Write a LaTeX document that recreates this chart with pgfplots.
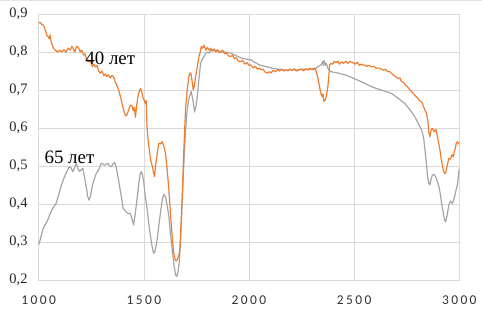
\documentclass[border=0pt]{standalone}
\usepackage{fontspec}
\setmainfont{Liberation Serif}
\newfontfamily\xfont[LetterSpace=18]{Carlito}
\usepackage{pgfplots}
\pgfplotsset{compat=1.18}
\definecolor{orng}{HTML}{ED7D31}
\definecolor{gry}{HTML}{A5A5A5}
\definecolor{gridc}{HTML}{D9D9D9}
\begin{document}
\begin{tikzpicture}
\useasboundingbox (-38.7bp,-35bp) rectangle (443.3bp,280bp);
\begin{axis}[
  at={(0,0)}, anchor=south west,
  scale only axis, width=420.6bp, height=266bp,
  xmin=1000, xmax=3000, ymin=0.2, ymax=0.9,
  xtick={1000,1500,2000,2500,3000},
  xticklabels={1000,1500,2000,2500,3000},
  ytick={0.2,0.3,0.4,0.5,0.6,0.7,0.8,0.9},
  yticklabels={{0,2},{0,3},{0,4},{0,5},{0,6},{0,7},{0,8},{0,9}},
  grid=major, grid style={gridc, line width=0.6pt},
  axis line style={gridc, line width=0.6pt},
  major tick length=0pt,
  yticklabel style={font=\fontsize{14.5}{16}\selectfont, text=black!85, anchor=east, inner sep=0pt, xshift=-11bp},
  xticklabel style={font=\xfont\fontsize{13.5}{15}\selectfont, text=black!80, anchor=north, inner sep=0pt, yshift=-16bp},
  clip=true,
]
\addplot[gry, line width=1.2pt, line join=round] coordinates {
(1000,0.292)(1010,0.312)(1019,0.332)(1030,0.345)(1043,0.358)(1055,0.375)(1067,0.389)(1075,0.395)(1083,0.402)
(1095,0.425)(1106,0.446)(1118,0.465)(1130,0.481)(1138,0.49)(1146,0.498)(1154,0.495)(1162,0.485)(1170,0.495)
(1178,0.507)(1186,0.495)(1194,0.485)(1202,0.49)(1210,0.494)(1218,0.47)(1226,0.446)(1233,0.42)(1239,0.41)
(1246,0.42)(1254,0.446)(1264,0.465)(1274,0.481)(1285,0.49)(1297,0.507)(1305,0.505)(1313,0.502)(1321,0.505)
(1329,0.507)(1337,0.50)(1345,0.498)(1353,0.505)(1361,0.51)(1369,0.495)(1377,0.472)(1385,0.445)(1393,0.419)
(1401,0.39)(1409,0.384)(1418,0.378)(1428,0.375)(1436,0.375)(1444,0.36)(1451,0.345)(1458,0.37)(1467,0.41)
(1475,0.45)(1481,0.475)(1487,0.485)(1493,0.478)(1500,0.455)(1507,0.419)(1515,0.39)(1525,0.34)(1532,0.314)
(1540,0.285)(1547,0.27)(1553,0.275)(1563,0.305)(1575,0.36)(1587,0.41)(1595,0.425)(1603,0.419)(1611,0.395)
(1619,0.367)(1627,0.32)(1635,0.279)(1643,0.24)(1651,0.213)(1656,0.209)(1662,0.22)(1668,0.245)(1674,0.297)
(1682,0.40)(1691,0.516)(1698,0.59)(1706,0.647)(1715,0.68)(1725,0.696)(1733,0.675)(1741,0.642)(1747,0.655)
(1754,0.682)(1762,0.73)(1770,0.77)(1778,0.782)(1786,0.788)(1794,0.797)(1802,0.80)(1810,0.797)(1818,0.806)
(1830,0.805)(1850,0.803)(1870,0.80)(1890,0.80)(1913,0.797)(1940,0.79)(1960,0.785)(1980,0.782)(2009,0.779)
(2030,0.772)(2050,0.766)(2070,0.763)(2088,0.761)(2110,0.757)(2140,0.755)(2160,0.753)(2191,0.753)(2230,0.753)
(2260,0.755)(2290,0.755)(2319,0.757)(2330,0.762)(2343,0.766)(2350,0.775)(2353,0.765)(2358,0.778)(2363,0.765)
(2368,0.77)(2375,0.757)(2390,0.748)(2420,0.745)(2462,0.739)(2500,0.73)(2534,0.722)(2570,0.712)(2605,0.704)
(2640,0.698)(2677,0.691)(2710,0.678)(2740,0.665)(2765,0.648)(2788,0.63)(2805,0.612)(2821,0.595)(2830,0.575)
(2837,0.542)(2843,0.51)(2849,0.472)(2855,0.455)(2860,0.45)(2866,0.465)(2872,0.476)(2880,0.478)(2887,0.472)
(2895,0.46)(2902,0.448)(2908,0.432)(2915,0.405)(2924,0.375)(2930,0.358)(2935,0.353)(2942,0.37)(2950,0.397)
(2958,0.408)(2965,0.402)(2971,0.406)(2980,0.425)(2986,0.44)(2992,0.454)(2996,0.475)(3000,0.494)
};
\addplot[orng, line width=1.2pt, line join=round] coordinates {
(1000,0.876)(1008,0.878)(1015,0.872)(1022,0.871)(1030,0.86)(1038,0.845)(1045,0.84)(1050,0.835)(1054,0.845)
(1060,0.825)(1070,0.81)(1078,0.805)(1090,0.80)(1100,0.805)(1110,0.80)(1120,0.806)(1130,0.80)(1140,0.81)
(1150,0.805)(1158,0.815)(1165,0.808)(1172,0.80)(1180,0.815)(1189,0.812)(1198,0.80)(1205,0.805)(1213,0.792)
(1220,0.795)(1228,0.78)(1237,0.774)(1245,0.778)(1255,0.762)(1262,0.768)(1269,0.761)(1278,0.764)(1285,0.75)
(1293,0.744)(1300,0.75)(1310,0.738)(1318,0.742)(1324,0.735)(1332,0.74)(1340,0.732)(1348,0.738)(1356,0.735)
(1365,0.72)(1372,0.712)(1380,0.70)(1389,0.682)(1398,0.66)(1404,0.647)(1413,0.632)(1419,0.634)(1428,0.648)
(1436,0.66)(1444,0.658)(1450,0.645)(1455,0.655)(1460,0.628)(1466,0.66)(1474,0.69)(1484,0.704)(1490,0.695)
(1496,0.68)(1502,0.672)(1507,0.665)(1511,0.672)(1515,0.603)(1520,0.57)(1532,0.516)(1540,0.50)(1547,0.48)
(1551,0.472)(1555,0.498)(1563,0.53)(1571,0.56)(1580,0.558)(1587,0.564)(1595,0.552)(1603,0.533)(1611,0.49)
(1619,0.437)(1627,0.37)(1635,0.314)(1641,0.275)(1647,0.257)(1653,0.25)(1659,0.253)(1665,0.262)(1671,0.279)
(1677,0.35)(1683,0.428)(1690,0.54)(1698,0.647)(1706,0.70)(1714,0.735)(1720,0.745)(1725,0.74)(1730,0.72)
(1735,0.70)(1740,0.71)(1746,0.735)(1754,0.76)(1762,0.788)(1768,0.80)(1773,0.814)(1780,0.81)(1786,0.818)
(1794,0.805)(1802,0.812)(1810,0.805)(1818,0.81)(1826,0.802)(1834,0.808)(1842,0.80)(1850,0.806)(1858,0.798)
(1866,0.80)(1875,0.805)(1884,0.795)(1893,0.798)(1902,0.79)(1913,0.788)(1922,0.792)(1930,0.782)(1940,0.785)
(1950,0.775)(1961,0.775)(1970,0.778)(1980,0.768)(1990,0.772)(2000,0.765)(2009,0.766)(2020,0.758)(2030,0.762)
(2040,0.755)(2050,0.758)(2057,0.753)(2066,0.755)(2075,0.748)(2088,0.744)(2096,0.748)(2105,0.745)(2115,0.752)
(2125,0.748)(2136,0.753)(2145,0.75)(2155,0.755)(2165,0.75)(2176,0.753)(2186,0.75)(2195,0.755)(2205,0.751)
(2215,0.756)(2225,0.75)(2239,0.753)(2250,0.755)(2260,0.75)(2270,0.756)(2280,0.752)(2287,0.757)(2295,0.755)
(2305,0.753)(2312,0.758)(2319,0.75)(2328,0.73)(2335,0.709)(2342,0.69)(2348,0.682)(2352,0.69)(2356,0.67)
(2363,0.674)(2368,0.685)(2375,0.709)(2380,0.74)(2383,0.766)(2390,0.77)(2398,0.768)(2405,0.775)(2414,0.772)
(2422,0.776)(2430,0.768)(2440,0.774)(2450,0.77)(2460,0.776)(2470,0.77)(2480,0.775)(2494,0.772)(2505,0.768)
(2515,0.773)(2525,0.765)(2535,0.768)(2542,0.766)(2552,0.765)(2560,0.762)(2570,0.765)(2582,0.761)(2595,0.762)
(2605,0.757)(2615,0.758)(2630,0.755)(2640,0.752)(2650,0.754)(2660,0.748)(2668,0.749)(2677,0.744)(2690,0.738)
(2700,0.734)(2710,0.73)(2718,0.732)(2725,0.722)(2735,0.72)(2745,0.712)(2755,0.708)(2765,0.70)(2773,0.696)
(2782,0.69)(2790,0.685)(2800,0.68)(2810,0.672)(2821,0.669)(2830,0.656)(2838,0.645)(2844,0.639)(2850,0.62)
(2855,0.59)(2860,0.577)(2866,0.595)(2873,0.599)(2880,0.59)(2889,0.596)(2895,0.58)(2902,0.56)(2908,0.542)
(2915,0.515)(2924,0.489)(2930,0.48)(2935,0.481)(2942,0.5)(2950,0.52)(2958,0.518)(2965,0.53)(2971,0.524)
(2980,0.545)(2986,0.56)(2992,0.564)(2998,0.558)(3000,0.56)
};
\node[font=\fontsize{19}{22}\selectfont, anchor=base west, inner sep=0pt] at (axis cs:1221,0.768) {40 лет};
\node[font=\fontsize{19}{22}\selectfont, anchor=base west, inner sep=0pt] at (axis cs:1027,0.507) {65 лет};
\end{axis}
\draw[gridc!70, line width=0.6pt] (-38.7bp,279.2bp) -- (443.3bp,279.2bp);
\end{tikzpicture}
\end{document}
